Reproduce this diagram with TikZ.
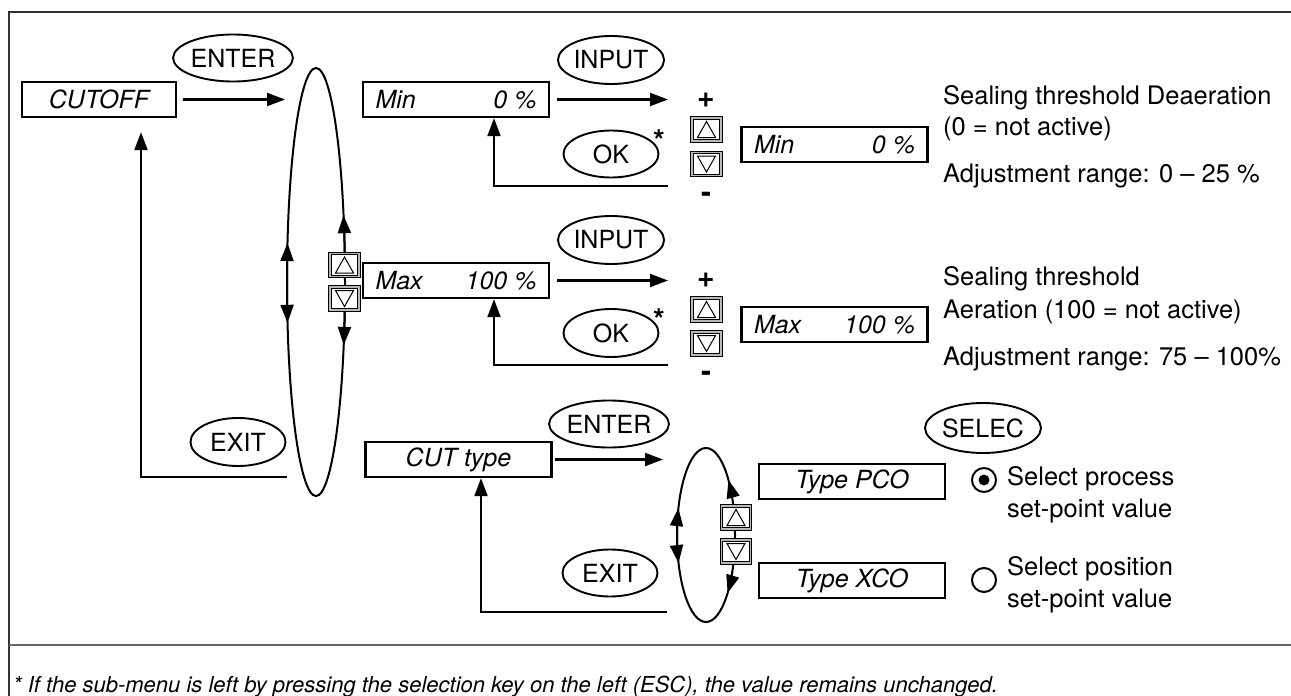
\documentclass[tikz,border=0pt]{standalone}
\usepackage{fontspec}
\setmainfont{TeX Gyre Heros}
\usetikzlibrary{shapes.geometric, arrows.meta, calc}
\begin{document}
\begin{tikzpicture}[x=1pt, y=-1pt,
  keyov/.style={ellipse, draw, line width=1.9pt, inner sep=0pt, minimum width=95pt, minimum height=48pt, font=\fontsize{25}{26}\selectfont},
  disp/.style={rectangle, draw, line width=2.3pt, inner sep=0pt, minimum width=186pt, minimum height=35pt, font=\fontsize{25}{27}\selectfont\itshape},
  tip/.style={-{Triangle[length=18pt, width=13pt]}},
  conn/.style={line width=2.1pt, tip},
  loopline/.style={draw, ellipse, line width=2pt, inner sep=0pt},
  btn/.style={rectangle, draw=black, line width=1.1pt, double=gray!55, double distance=1.6pt, fill=white, minimum width=29pt, minimum height=23pt, inner sep=0pt},
  btnup/.style={btn, path picture={\draw[line width=1pt] ($(path picture bounding box.center)+(-9pt,-8pt)$) -- ++(18pt,0pt) -- ++(-9pt,16pt) -- cycle;}},
  btndn/.style={btn, path picture={\draw[line width=1pt] ($(path picture bounding box.center)+(-9pt,8pt)$) -- ++(18pt,0pt) -- ++(-9pt,-16pt) -- cycle;}},
  desc/.style={anchor=base west, inner sep=0pt, font=\fontsize{25.5}{31}\selectfont},
  pm/.style={font=\fontsize{30}{30}\selectfont\bfseries, inner sep=0pt},
  star/.style={font=\fontsize{30}{30}\selectfont\bfseries, inner sep=0pt},
  radio/.style={circle, draw, line width=2pt, minimum size=24pt, inner sep=0pt},
]
\useasboundingbox (0,0) rectangle (1291,696);
% frame
\draw[line width=2pt, black!80] (9,696) -- (9,11.5) -- (1291,11.5);
\draw[line width=2pt, black!60] (9,645) -- (1291,645);

% ---------- main loop ----------
\node[disp, minimum width=154pt] (cutoff) at (99,99.5) {CUTOFF};
\node[keyov, minimum width=100pt, minimum height=47pt] (enterA) at (233,58) {ENTER};
\node[loopline, minimum width=58pt, minimum height=428pt] (loopA) at (316,282) {};
\node[keyov] (exitA) at (238,442) {EXIT};
\coordinate (eA) at (285,99.5);
\coordinate (xA) at (287,477);
\draw[conn, shorten <=6pt] (cutoff.east) -- (eA);
\draw[conn] (xA) -| ([xshift=42pt, yshift=-14pt]cutoff.south);

% arrows on the loop
\draw[line width=2pt, tip] (loopA.center) ++(-6:29 and 214) arc[start angle=-6, end angle=-18.2, x radius=29, y radius=214];
\draw[line width=2pt, tip] (loopA.center) ++(6:29 and 214) arc[start angle=6, end angle=17.1, x radius=29, y radius=214];
\draw[line width=2pt, tip] (loopA.center) ++(180:29 and 214) arc[start angle=180, end angle=190.5, x radius=29, y radius=214];
\draw[line width=2pt, tip] (loopA.center) ++(180:29 and 214) arc[start angle=180, end angle=169, x radius=29, y radius=214];
\node[btnup] (upL) at (344.5,265) {};
\node[btndn] (dnL) at (344.5,298.5) {};

% ---------- Min ----------
\node[disp] (minA) at (456,99.5) {\makebox[161pt]{Min\hfill 0 \%}};
\node[keyov] (inputA) at (611,60) {INPUT};
\node[keyov, minimum height=47pt] (okA) at (611,154) {OK};
\node[star] (starA) at (659,141) {*};
\node[pm] (plusA) at (706,100) {+};
\node[btnup] (upA) at (706.5,129.5) {};
\node[btndn] (dnA) at (706.5,164) {};
\node[pm] (minusA) at (706,197) {-};
\node[disp] (minB) at (834.5,144.5) {\makebox[161pt]{Min\hfill 0 \%}};
\coordinate (iA) at (668,99.5);
\coordinate (oA) at (668,186);
\draw[conn, shorten <=7pt] (minA.east) -- (iA);
\draw[conn] (oA) -| ([xshift=38pt]minA.south);
\node[desc] at (943,104) {Sealing threshold Deaeration};
\node[desc] at (943,135) {(0 = not active)};
\node[desc] at (943,182) {Adjustment range: 0 – 25 \%};

% ---------- Max ----------
\node[disp] (maxA) at (456,280.5) {\makebox[161pt]{Max\hfill 100 \%}};
\node[keyov] (inputB) at (611,240) {INPUT};
\node[keyov] (okB) at (611,333) {OK};
\node[star] (starB) at (659,320) {*};
\node[pm] (plusB) at (706,280) {+};
\node[btnup] (upB) at (706.5,309.5) {};
\node[btndn] (dnB) at (706.5,343.5) {};
\node[pm] (minusB) at (706,376) {-};
\node[disp] (maxB) at (834.5,324.5) {\makebox[161pt]{Max\hfill 100 \%}};
\coordinate (iB) at (668,280.5);
\coordinate (oB) at (668,365);
\draw[conn, shorten <=7pt] (maxA.east) -- (iB);
\draw[conn] (oB) -| ([xshift=38pt]maxA.south);
\node[desc] at (943,285) {Sealing threshold};
\node[desc] at (943,318) {Aeration (100 = not active)};
\node[desc] at (943,365) {Adjustment range: 75 – 100\%};

% ---------- CUT type ----------
\node[disp] (cut) at (458.5,459.5) {CUT type};
\node[keyov, minimum width=101pt, minimum height=47pt] (enterB) at (609,424) {ENTER};
\node[loopline, minimum width=58pt, minimum height=174pt] (loopB) at (706,535) {};
\node[keyov, minimum height=47pt] (exitB) at (610,573) {EXIT};
\coordinate (eB) at (663,459.5);
\coordinate (xB) at (667,612);
\draw[conn, shorten <=2pt] (cut.east) -- (eB);
\draw[conn] (xB) -| ([xshift=22.5pt]cut.south);
\draw[line width=2pt, tip] (loopB.center) ++(-25:29 and 87) arc[start angle=-25, end angle=-39.2, x radius=29, y radius=87];
\draw[line width=2pt, tip] (loopB.center) ++(25:29 and 87) arc[start angle=25, end angle=41.8, x radius=29, y radius=87];
\draw[line width=2pt, tip] (loopB.center) ++(180:29 and 87) arc[start angle=180, end angle=198, x radius=29, y radius=87];
\draw[line width=2pt, tip] (loopB.center) ++(180:29 and 87) arc[start angle=180, end angle=161.2, x radius=29, y radius=87];
\node[btnup] (upS) at (736,517.5) {};
\node[btndn] (dnS) at (736,551.5) {};
\node[disp] (pco) at (852,481.5) {Type PCO};
\node[disp] (xco) at (852,580.5) {Type XCO};
\node[keyov, minimum width=100pt, minimum height=50pt] (selec) at (983,428) {SELEC};
\node[radio] (radA) at (984,480) {};
\fill (radA.center) circle[radius=5.5pt];
\node[radio] (radB) at (984,580) {};
\node[desc] at (1007,485) {Select process};
\node[desc] at (1007,517) {set-point value};
\node[desc] at (1007,575) {Select position};
\node[desc] at (1007,607) {set-point value};

% footnote
\node[anchor=base west, inner sep=0pt, font=\fontsize{22}{24}\selectfont\itshape] (foot) at (13,692) {* If the sub-menu is left by pressing the selection key on the left (ESC), the value remains unchanged.};
\end{tikzpicture}
\end{document}
